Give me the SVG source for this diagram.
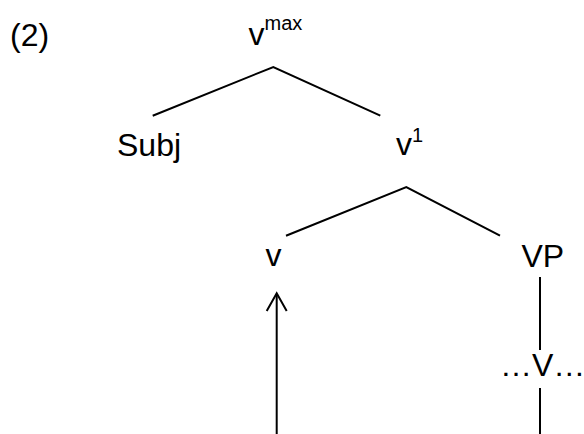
<svg xmlns="http://www.w3.org/2000/svg" width="584" height="434" viewBox="0 0 584 434">
<style>
text{font-family:"Liberation Sans",Arial,sans-serif;font-size:32px;fill:#000}
.sup{font-size:20px}
.edge{stroke:#000;stroke-width:2;fill:none}
</style>
<rect width="584" height="434" fill="#fff"/>
<text id="label" x="10" y="46">(2)</text>
<g id="vmax"><text x="248.5" y="45">v<tspan class="sup" dy="-15">max</tspan></text></g>
<g id="subj"><text x="117" y="156">Subj</text></g>
<g id="v1"><text x="396" y="155">v<tspan class="sup" dy="-13">1</tspan></text></g>
<g id="v"><text x="265.5" y="266">v</text></g>
<g id="vp"><text x="521.5" y="267">VP</text></g>
<g id="V"><text x="500" y="376">…V…</text></g>
<g id="connectors">
<polyline class="edge" points="152.7,115.7 273.3,67 380.3,115.7"/>
<polyline class="edge" points="286,235.7 406.3,187 500,235.7"/>
<line class="edge" x1="540" y1="277" x2="540" y2="350"/>
<line class="edge" x1="540" y1="388" x2="540" y2="434"/>
<line class="edge" x1="276.7" y1="434" x2="276.7" y2="294"/>
<polyline class="edge" points="266.7,311 276.7,293.3 286.7,311"/>
</g>
</svg>
